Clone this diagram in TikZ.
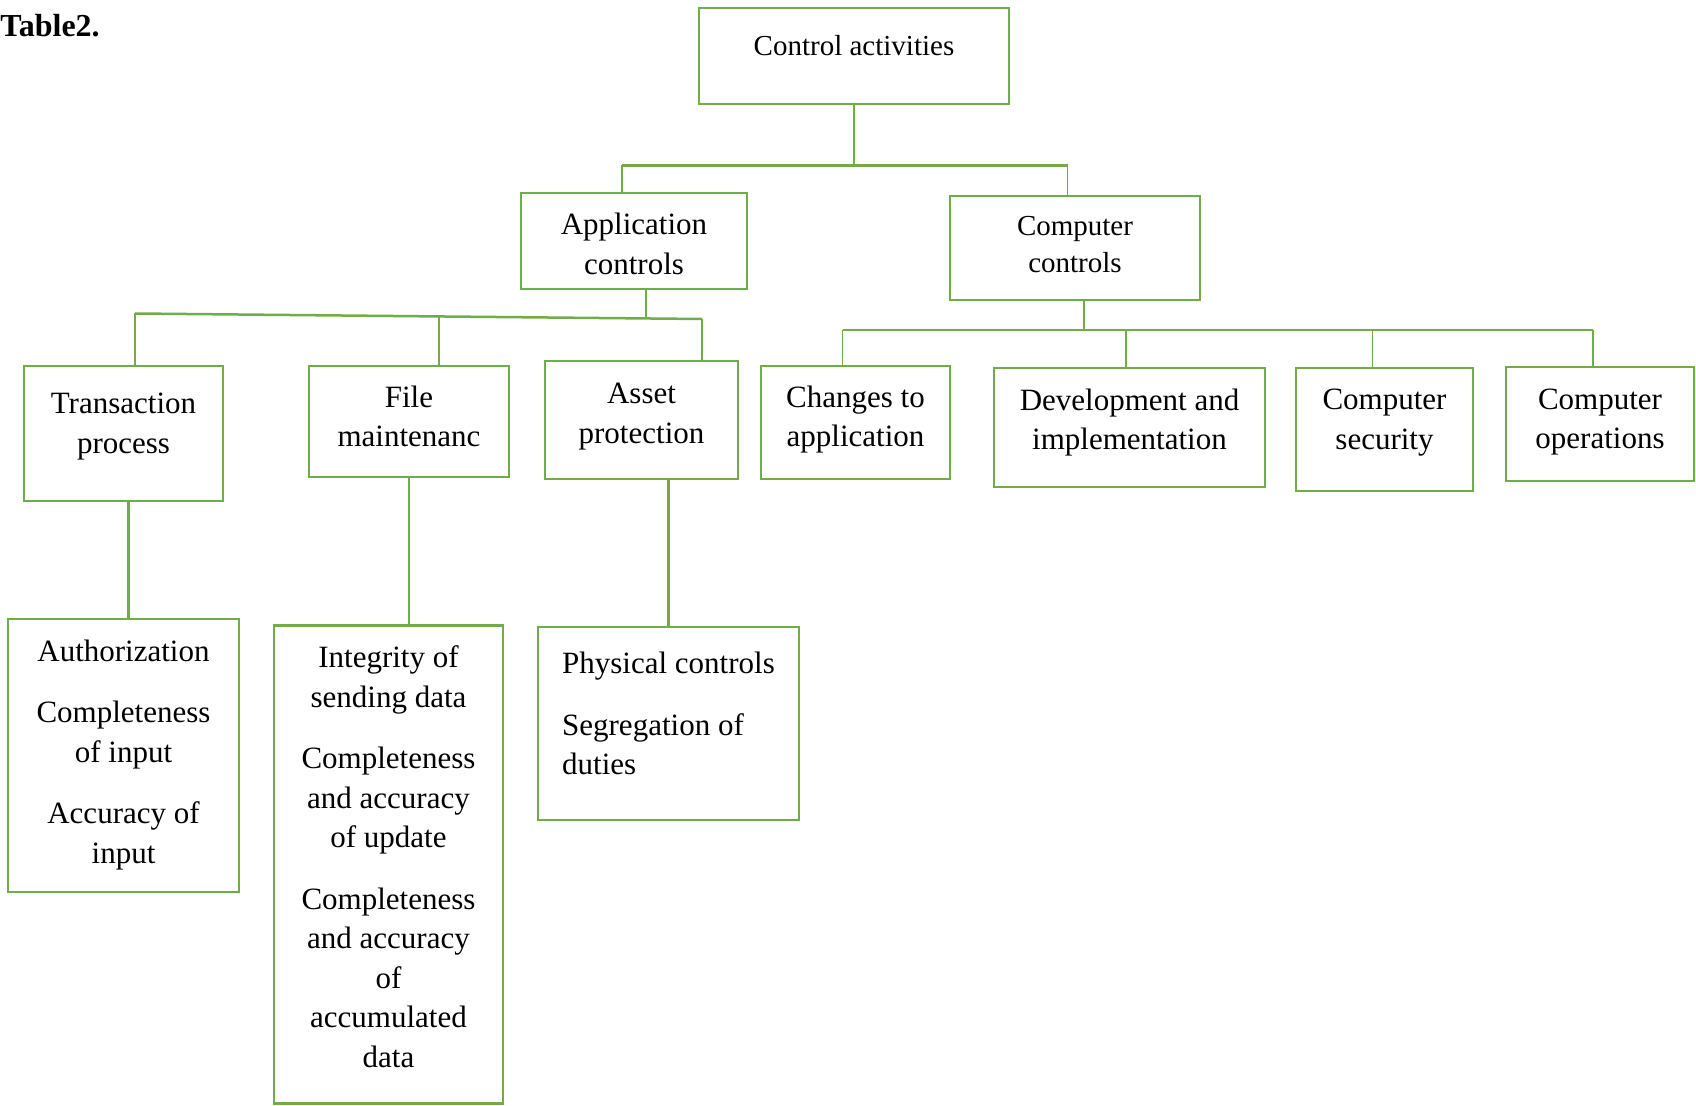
\documentclass[tikz,border=0pt]{standalone}
\usepackage{fontspec}
\setmainfont{Liberation Serif}
\definecolor{boxgreen}{HTML}{70AD47}

\begin{document}
\begin{tikzpicture}[x=0.5pt, y=-0.5pt,
  ctrlbox/.style={rectangle, draw=boxgreen, line width=1.25pt, inner sep=0pt},
  ctrltext/.style={align=center, inner sep=0pt, font=\fontsize{15.5}{19.75}\selectfont},
  toptext/.style={align=center, inner sep=0pt, font=\fontsize{14.5}{18.5}\selectfont},
  bus/.style={draw=boxgreen, line width=1.25pt},
  stem/.style={draw=boxgreen, line width=0.75pt}]

 \useasboundingbox (0,0) rectangle (1696,1106);

 %%%  nodes

 \node [anchor=base west, inner sep=0pt, font=\fontsize{16}{19}\selectfont\bfseries] (title) at (0,37) {Table2.};

 % top nodes
 \node [ctrlbox, minimum width=155pt, minimum height=48pt, label={[toptext, name=catext, yshift=5pt]center:Control activities}] (ca) at (854,56) {};
 \node [ctrlbox, minimum width=113pt, minimum height=48pt, label={[ctrltext, name=apptext, yshift=-1.4pt]center:Application\\controls}] (app) at (634,241) {};
 \node [ctrlbox, minimum width=125pt, minimum height=52pt, label={[toptext, name=cctext, yshift=1.5pt]center:Computer\\controls}] (cc) at (1075,248) {};

 % application nodes
 \node [ctrlbox, minimum width=99.5pt, minimum height=67.5pt, label={[ctrltext, name=transtext, yshift=3.4pt]center:Transaction\\process}] (trans) at (123.5,433.5) {};
 \node [ctrlbox, minimum width=100pt, minimum height=55.5pt, label={[ctrltext, name=filetext, yshift=2.5pt]center:File\\maintenanc}] (file) at (409,421.5) {};
 \node [ctrlbox, minimum width=96.5pt, minimum height=59pt, label={[ctrltext, name=assettext, yshift=1.8pt]center:Asset\\protection}] (asset) at (641.5,420) {};

 % computer nodes
 \node [ctrlbox, minimum width=94.5pt, minimum height=56.5pt, label={[ctrltext, name=chgtext, yshift=1.4pt]center:Changes to\\application}] (chg) at (855.5,422.5) {};
 \node [ctrlbox, minimum width=135.5pt, minimum height=59.5pt, label={[ctrltext, name=devtext, yshift=2.6pt]center:Development and\\implementation}] (dev) at (1129.5,427.5) {};
 \node [ctrlbox, minimum width=88.5pt, minimum height=61.5pt, label={[ctrltext, name=sectext, yshift=3.4pt]center:Computer\\security}] (sec) at (1384.5,429.5) {};
 \node [ctrlbox, minimum width=94pt, minimum height=57pt, label={[ctrltext, name=opstext, yshift=0.9pt]center:Computer\\operations}] (ops) at (1600,424) {};

 % detail nodes
 \node [ctrlbox, minimum width=115.5pt, minimum height=136.5pt, label={[ctrltext, name=authtext, yshift=0.3pt]center:Authorization\\[11pt]Completeness\\of input\\[11pt]Accuracy of\\input}] (auth) at (123.5,755.5) {};
 \node [ctrlbox, minimum width=114.5pt, minimum height=239pt, label={[ctrltext, name=integtext, yshift=4pt]center:Integrity of\\sending data\\[11pt]Completeness\\and accuracy\\of update\\[11pt]Completeness\\and accuracy\\of\\accumulated\\data}] (integ) at (388.5,864.5) {};
 \node [ctrlbox, minimum width=130.5pt, minimum height=96.5pt, label={[ctrltext, align=left, name=phystext, yshift=5pt]center:Physical controls\\[11pt]Segregation of\\duties}] (phys) at (668.5,723.5) {};

 %%%  connectors

 % top level
 \coordinate (tl) at (622,165.5);
 \coordinate (tr) at (1067.5,165.5);
 \draw [stem] (ca) -- (ca |- tl);
 \draw [bus] (tl) -- (tr);
 \draw [stem] (tl) -- (tl |- app.north);
 \draw [stem] (tr) -- (tr |- cc.north);

 % application level
 \coordinate (aj) at (646,318.5);
 \coordinate (al) at (135,313.5);
 \coordinate (am) at (439,316.5);
 \coordinate (ar) at (702,319);
 \draw [stem] (app.south -| aj) -- (aj);
 \draw [bus] (al) -- (ar);
 \draw [bus] (al) -- (al |- trans.north);
 \draw [bus] (am) -- (am |- file.north);
 \draw [stem] (ar) -- (ar |- asset.north);

 % computer level
 \coordinate (cj) at (1084,330);
 \coordinate (cl) at (842.5,330);
 \coordinate (cd) at (1126,330);
 \coordinate (cs) at (1372.5,330);
 \coordinate (cr) at (1593,330);
 \draw [stem] (cc.south -| cj) -- (cj);
 \draw [bus] (cl) -- (cr);
 \draw [stem] (cl) -- (cl |- chg.north);
 \draw [bus] (cd) -- (cd |- dev.north);
 \draw [stem] (cs) -- (cs |- sec.north);
 \draw [stem] (cr) -- (cr |- ops.north);

 % detail level
 \draw [bus] ([xshift=2.5pt]trans.south) -- ([xshift=2.5pt]trans.south |- auth.north);
 \draw [bus] (file.south) -- (file.south |- integ.north);
 \draw [bus] (phys.north |- asset.south) -- (phys.north);

\end{tikzpicture}
\end{document}
